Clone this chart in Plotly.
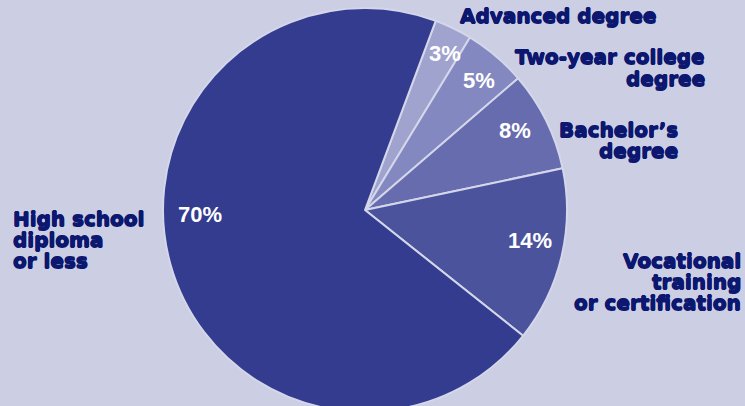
import plotly.graph_objects as go

# Education level shares (clockwise from the top)
categories = ["Advanced degree", "Two-year college degree", "Bachelor's degree",
              "Vocational training or certification", "High school diploma or less"]
values = [3, 5, 8, 14, 70]
slice_colors = ["#A0A3CE", "#8488C0", "#676CAE", "#4C539D", "#333C8E"]

# Multi-line outside labels, one entry per category
label_lines = [
    ["Advanced degree"],
    ["Two-year college", "degree"],
    ["Bachelor\u2019s", "degree"],
    ["Vocational", "training", "or certification"],
    ["High school", "diploma", "or less"],
]

W, H = 745, 420
BG = "#CCCEE4"
NAVY = "#0C1770"

# Pie geometry in pixels
cx, cy, r = 365, 210, 202

# Label placement (pixels): anchor x, first-line y, horizontal alignment
label_pos = [
    (458, 16, "left"),
    (707, 57.5, "right"),
    (680, 130, "right"),
    (743, 261, "right"),
    (11, 219, "left"),
]
pct_pos = [(445, 54), (479, 81), (515, 130), (530, 240), (200, 215)]
line_step = 21


def heavy(color, d=0.55):
    # thicken glyph strokes with a tight text shadow
    return (f"{d}px 0 0 {color}, -{d}px 0 0 {color}, "
            f"0 {d}px 0 {color}, 0 -{d}px 0 {color}")


fig = go.Figure(go.Pie(
    labels=categories,
    values=values,
    sort=False,
    direction="clockwise",
    rotation=20.5,
    marker=dict(colors=slice_colors, line=dict(color="#D4D6EA", width=2)),
    textinfo="none",
    hoverinfo="label+percent",
    showlegend=False,
    domain=dict(x=[(cx - r) / W, (cx + r) / W],
                y=[1 - (cy + r) / H, 1 - (cy - r) / H]),
))

annotations = []
for lines, (x, y, al) in zip(label_lines, label_pos):
    for i, line in enumerate(lines):
        annotations.append(dict(
            text=line, x=x / W, y=1 - (y + i * line_step) / H,
            xref="paper", yref="paper", xanchor=al, yanchor="middle",
            showarrow=False,
            font=dict(family="DejaVu Sans", size=20, color=NAVY, weight="bold",
                      shadow=heavy(NAVY)),
        ))

total = sum(values)
for v, (x, y) in zip(values, pct_pos):
    annotations.append(dict(
        text=f"{round(100 * v / total)}%", x=x / W, y=1 - y / H,
        xref="paper", yref="paper", xanchor="center", yanchor="middle",
        showarrow=False,
        font=dict(family="Liberation Sans", size=22, color="white", weight="bold"),
    ))

fig.update_layout(
    width=W, height=H,
    margin=dict(l=0, r=0, t=0, b=0),
    paper_bgcolor=BG, plot_bgcolor=BG,
    annotations=annotations,
)

fig.write_html("out.html")
